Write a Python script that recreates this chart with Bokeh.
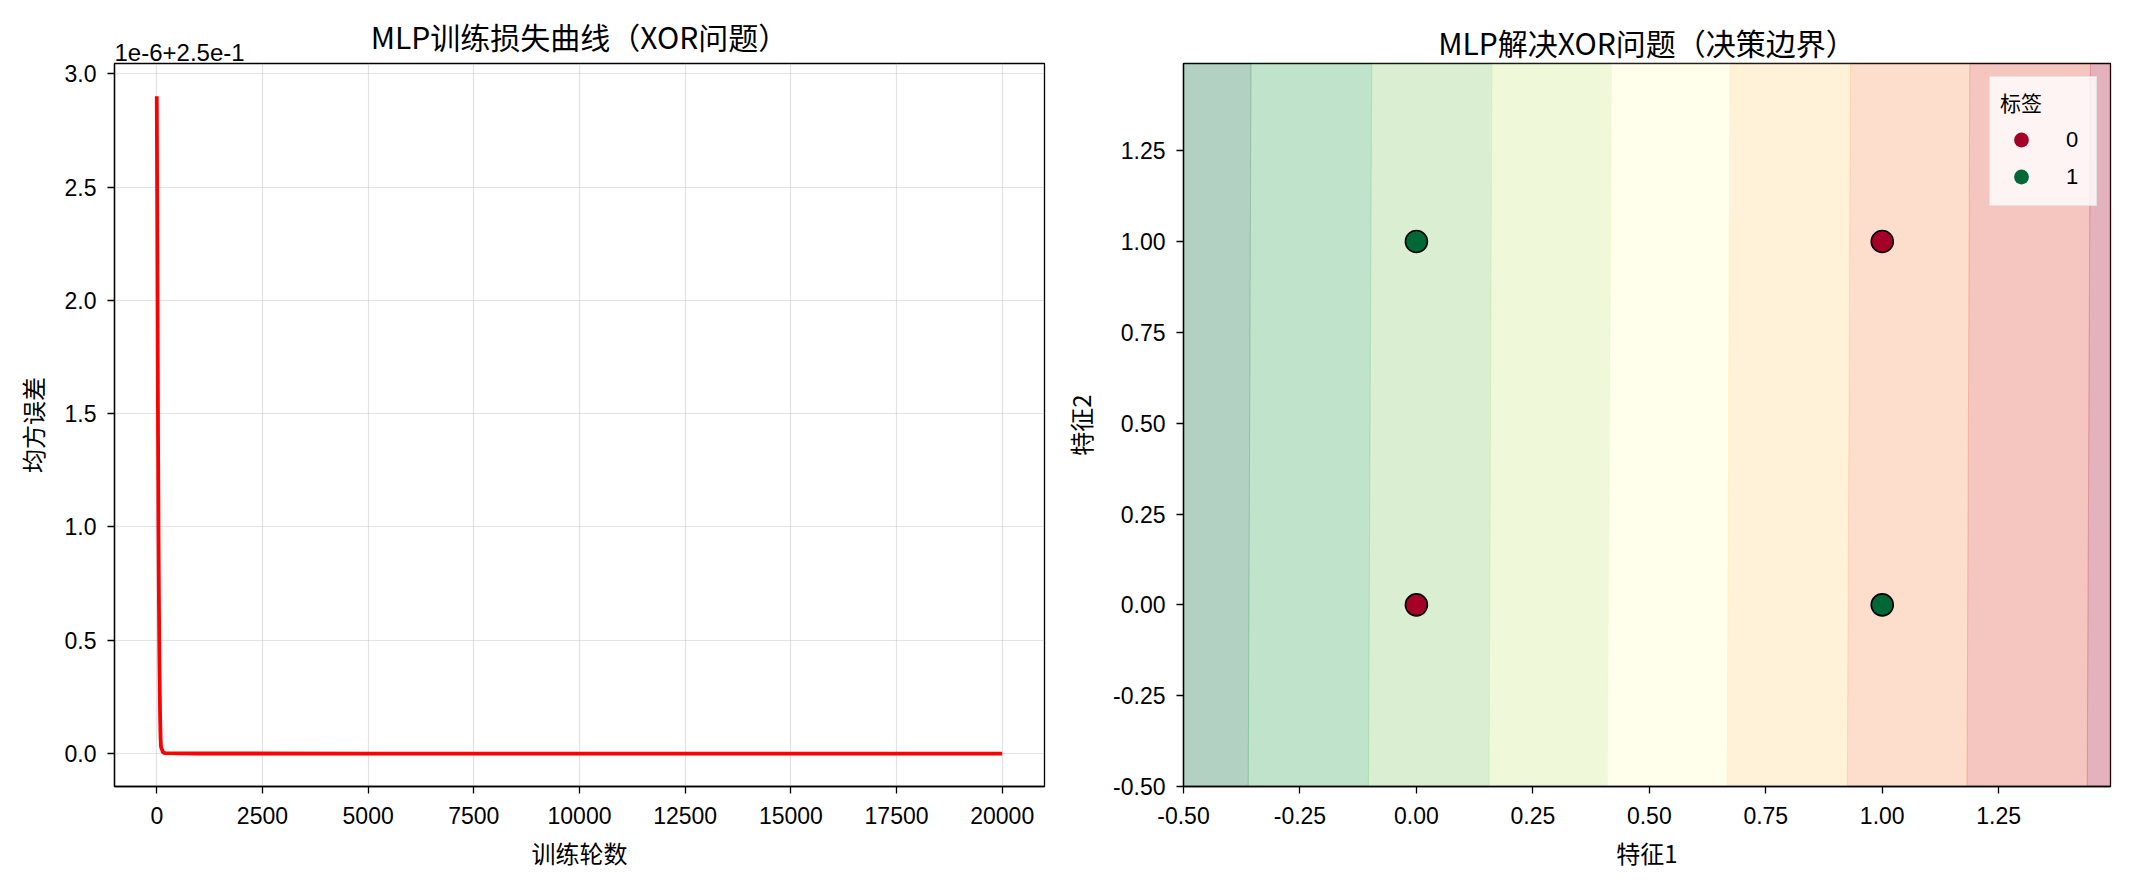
from bokeh.plotting import figure
from bokeh.layouts import row
from bokeh.models import (Range1d, FixedTicker, CustomJSTickFormatter, PrintfTickFormatter,
                          Legend, LegendItem, BasicTickFormatter, Title)
from bokeh.embed import file_html
from bokeh.resources import INLINE

# ---------------- data ----------------
# Left: MLP training loss (MSE) per epoch
epochs = [0, 10, 20, 30, 40, 50, 60, 70, 80, 90, 100, 150, 200, 500, 1000, 5000, 10000, 15000, 19999]
loss = [0.2500029, 0.2500024, 0.2500019, 0.2500014, 0.2500010, 0.2500007, 0.25000045,
        0.25000028, 0.25000015, 0.25000007, 0.25000003, 0.250000005, 0.250000002,
        0.2500000010, 0.2500000006, 0.2500000003, 0.2500000002, 0.2500000001, 0.2500000001]
loss_offset = 0.25
loss_scale = 1e-6
offset_text = "1e-6+2.5e-1"
loss_yticks = [0.0, 0.5, 1.0, 1.5, 2.0, 2.5, 3.0]
epoch_ticks = [0, 2500, 5000, 7500, 10000, 12500, 15000, 17500, 20000]

# Right: XOR points and decision-boundary bands
pts_x = [0, 0, 1, 1]
pts_y = [0, 1, 0, 1]
pts_label = [0, 1, 1, 0]
class_colors = {0: "#a50026", 1: "#006837"}
band_edges_top = [-0.5, -0.355, -0.096, 0.162, 0.419, 0.673, 0.932, 1.188, 1.447, 1.49]
band_edges_bottom = [-0.5, -0.361, -0.103, 0.156, 0.410, 0.667, 0.925, 1.182, 1.440, 1.49]
band_colors = ["#006837", "#2da155", "#86cb66", "#cce983", "#ffffbf",
               "#fed380", "#f88e52", "#de3f2e", "#a50026"]
grid_lo, grid_hi = -0.5, 1.49
feat_ticks = [-0.5, -0.25, 0.0, 0.25, 0.5, 0.75, 1.0, 1.25]

CJK = "Noto Sans CJK SC"
LAT = "Liberation Sans"


def style(p, title, title_standoff):
    p.title.text = title
    p.title.text_font = CJK
    p.title.text_font_size = "30px"
    p.title.text_font_style = "normal"
    p.title.text_color = "black"
    p.title.align = "center"
    p.title.standoff = title_standoff
    p.outline_line_color = "black"
    p.outline_line_width = 1.3
    p.background_fill_color = "white"
    p.border_fill_color = "white"
    for ax in (p.xaxis[0], p.yaxis[0]):
        ax.axis_line_color = "black"
        ax.axis_line_width = 1.3
        ax.major_tick_line_color = "black"
        ax.major_tick_line_width = 1.3
        ax.major_tick_out = 7
        ax.major_tick_in = 0
        ax.minor_tick_line_color = None
        ax.major_label_text_font = LAT
        ax.major_label_text_font_size = "23px"
        ax.major_label_text_color = "black"
        ax.axis_label_text_font = CJK
        ax.axis_label_text_font_size = "24px"
        ax.axis_label_text_font_style = "normal"
        ax.axis_label_text_color = "black"
    p.xaxis[0].major_label_standoff = 13
    p.yaxis[0].major_label_standoff = 11
    p.xaxis[0].axis_label_standoff = 8
    p.yaxis[0].axis_label_standoff = 12


# ---------------- left figure ----------------
p1 = figure(width=1060, height=876, output_backend="svg", toolbar_location=None,
            x_range=Range1d(-1000, 21000),
            y_range=Range1d(loss_offset - 0.145 * loss_scale, loss_offset + 3.045 * loss_scale),
            min_border_left=114, min_border_right=16, min_border_top=63, min_border_bottom=90)
style(p1, "MLP训练损失曲线（XOR问题）", -39)
p1.line(epochs, loss, line_color="red", line_width=3.8)
p1.xaxis[0].ticker = FixedTicker(ticks=epoch_ticks)
p1.xaxis[0].formatter = BasicTickFormatter(use_scientific=False)
p1.yaxis[0].ticker = FixedTicker(ticks=[loss_offset + t * loss_scale for t in loss_yticks])
p1.yaxis[0].formatter = CustomJSTickFormatter(
    code="return ((tick - 0.25) * 1e6).toFixed(1);")
p1.xaxis[0].axis_label = "训练轮数"
p1.yaxis[0].axis_label = "均方误差"
p1.grid.grid_line_color = "#b0b0b0"
p1.grid.grid_line_alpha = 0.35
p1.grid.grid_line_width = 1.2
# offset text of the y axis (matplotlib style), just above the frame on the left
p1.add_layout(Title(text=offset_text, align="left", text_font=LAT, text_font_size="24px",
                    text_font_style="normal", text_color="black", standoff=6), "above")

# ---------------- right figure ----------------
p2 = figure(width=1056, height=876, output_backend="svg", toolbar_location=None,
            x_range=Range1d(grid_lo, grid_hi), y_range=Range1d(grid_lo, grid_hi),
            min_border_left=119, min_border_right=6, min_border_top=63, min_border_bottom=90)
style(p2, "MLP解决XOR问题（决策边界）", 0)
p2.grid.visible = False

xs, ys = [], []
for i in range(len(band_colors)):
    xs.append([band_edges_bottom[i], band_edges_bottom[i + 1], band_edges_top[i + 1], band_edges_top[i]])
    ys.append([grid_lo, grid_lo, grid_hi, grid_hi])
p2.patches(xs, ys, fill_color=band_colors, fill_alpha=0.3,
           line_color=band_colors, line_alpha=0.15, line_width=1)

legend_items = []
for lab in (0, 1):
    sx = [x for x, l in zip(pts_x, pts_label) if l == lab]
    sy = [y for y, l in zip(pts_y, pts_label) if l == lab]
    # plain marker (used for the legend), covered by the outlined marker drawn on top
    r_leg = p2.scatter(sx, sy, size=17, fill_color=class_colors[lab], line_color=None)
    legend_items.append(LegendItem(label=str(lab), renderers=[r_leg]))
for lab in (0, 1):
    sx = [x for x, l in zip(pts_x, pts_label) if l == lab]
    sy = [y for y, l in zip(pts_y, pts_label) if l == lab]
    p2.scatter(sx, sy, size=22, fill_color=class_colors[lab], line_color="black", line_width=1.6)

legend = Legend(items=legend_items,
                title="标签", location="top_right", margin=13, padding=10, spacing=0,
                glyph_width=42, glyph_height=37, label_standoff=24,
                label_text_font=LAT, label_text_font_size="22px", label_text_color="black",
                title_text_font=CJK, title_text_font_size="21px", title_text_font_style="normal",
                title_text_color="black", title_standoff=4,
                background_fill_color="white", background_fill_alpha=0.8,
                border_line_color="#d0d0d0", border_line_width=1)
p2.add_layout(legend)

p2.xaxis[0].ticker = FixedTicker(ticks=feat_ticks)
p2.yaxis[0].ticker = FixedTicker(ticks=feat_ticks)
p2.xaxis[0].formatter = PrintfTickFormatter(format="%.2f")
p2.yaxis[0].formatter = PrintfTickFormatter(format="%.2f")
p2.xaxis[0].axis_label = "特征1"
p2.yaxis[0].axis_label = "特征2"

layout = row(p1, p2)
open("out.html", "w").write(file_html(layout, INLINE))
